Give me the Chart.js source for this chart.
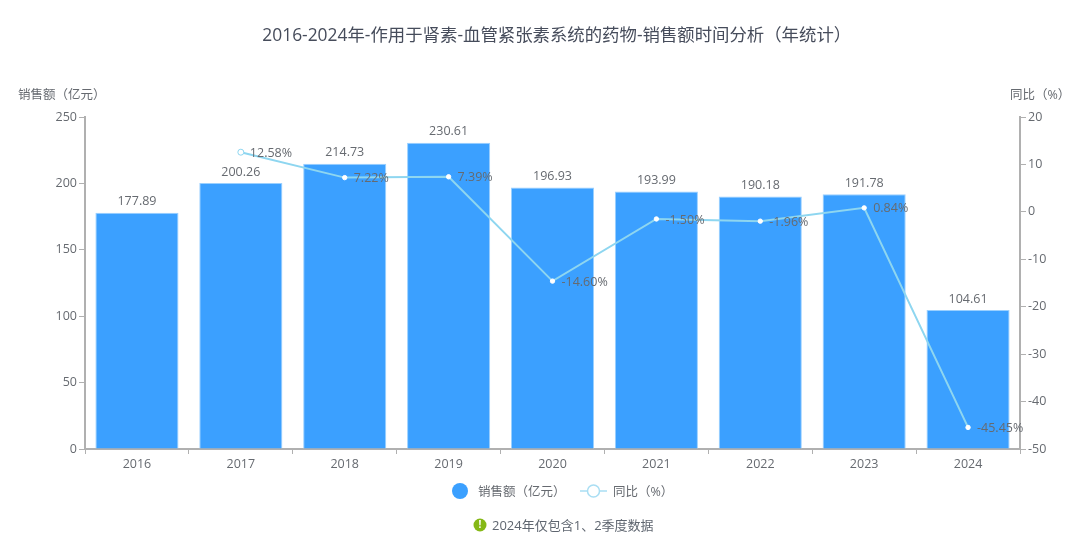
<!DOCTYPE html>
<html><head><meta charset="utf-8">
<script src="https://cdn.jsdelivr.net/npm/chart.js@4"></script>
<style>html,body{margin:0;padding:0;background:#fff}#w{position:relative;width:1080px;height:541px}</style>
</head><body><div id="w"><canvas id="c" width="1080" height="541"></canvas></div>
<script>
const years = ['2016','2017','2018','2019','2020','2021','2022','2023','2024'];
const sales = [177.89,200.26,214.73,230.61,196.93,193.99,190.18,191.78,104.61];
const yoy = [null,12.58,7.22,7.39,-14.60,-1.50,-1.96,0.84,-45.45];
const titleText = '2016-2024年-作用于肾素-血管紧张素系统的药物-销售额时间分析（年统计）';
const leftName = '销售额（亿元）';
const rightName = '同比（%）';
const noteText = '2024年仅包含1、2季度数据';
const F = '"Open Sans","Noto Sans CJK SC",sans-serif';
const BLUE = '#3ba0ff', LINE = '#8ed6f0', AXIS = '#b0b0b0', TXT = '#666a70';
const KEEP = '\u00a0';

const overlay = {
  id:'overlay',
  afterDatasetsDraw(ch){
    const g = ch.ctx; g.save();
    g.textBaseline = 'middle';
    g.font = '17.4px '+F; g.fillStyle = '#464c5b'; g.textAlign = 'center';
    g.fillText(titleText+KEEP, 559, 36);
    g.font = '12.5px '+F; g.fillStyle = TXT;
    ch.getDatasetMeta(1).data.forEach((el,i)=>g.fillText(sales[i].toFixed(2), el.x, el.y-11));
    g.textAlign = 'left';
    ch.getDatasetMeta(0).data.forEach((el,i)=>{ if(yoy[i]!==null) g.fillText(yoy[i].toFixed(2)+'%', el.x+9, el.y+1); });
    g.fillText(leftName+KEEP, 18, 95);
    g.fillText(rightName+KEEP, 1010, 95);
    const ly = 491;
    g.fillStyle = BLUE; g.beginPath(); g.arc(460, ly, 8, 0, 7); g.fill();
    g.fillStyle = TXT;
    g.fillText(leftName+KEEP, 478, ly+1);
    g.strokeStyle = '#a9def3'; g.lineWidth = 1.5;
    g.beginPath(); g.moveTo(580, ly); g.lineTo(607, ly); g.stroke();
    g.fillStyle = '#fff'; g.beginPath(); g.arc(593.5, ly, 6, 0, 7); g.fill(); g.stroke();
    g.fillStyle = TXT;
    g.fillText(rightName+KEEP, 613, ly+1);
    g.fillStyle = '#85b816'; g.beginPath(); g.arc(480, 525, 6.5, 0, 7); g.fill();
    g.fillStyle = '#fff'; g.font = 'bold 10px '+F; g.textAlign = 'center';
    g.fillText('!', 480, 525);
    g.fillStyle = '#5f6670'; g.font = '13px '+F; g.textAlign = 'left';
    g.fillText(noteText, 492, 526);
    g.restore();
  }
};

new Chart(document.getElementById('c'),{
  data:{labels:years,datasets:[
    {type:'line',label:rightName,data:yoy,yAxisID:'y1',order:0,borderColor:LINE,borderWidth:2,tension:0,spanGaps:false,
     pointRadius:yoy.map((v,i)=>i===1?3:2.2),pointHoverRadius:3,pointBackgroundColor:'#fff',
     pointBorderColor:yoy.map((v,i)=>i===1?LINE:'#fff'),pointBorderWidth:1},
    {type:'bar',label:leftName,data:sales,yAxisID:'y',order:1,backgroundColor:BLUE,borderColor:'#9ad0ff',borderWidth:1,
     barPercentage:0.8,categoryPercentage:1}
  ]},
  options:{
    responsive:false,animation:false,events:[],
    layout:{padding:{top:117}},
    plugins:{legend:{display:false},tooltip:{enabled:false},title:{display:false}},
    scales:{
      x:{type:'category',offset:true,
        afterFit(s){s.height=92;},
        border:{color:AXIS,width:2},
        grid:{display:true,drawOnChartArea:false,drawTicks:true,tickLength:5,color:AXIS,offset:true},
        ticks:{color:TXT,font:{family:F,size:12.5},padding:3,maxRotation:0}},
      y:{position:'left',min:0,max:250,
        afterFit(s){s.width=85;},
        border:{color:AXIS,width:2},
        grid:{drawOnChartArea:false,tickLength:6,color:AXIS},
        ticks:{stepSize:50,color:TXT,font:{family:F,size:12.5},padding:2}},
      y1:{position:'right',min:-50,max:20,
        afterFit(s){s.width=60;},
        border:{color:AXIS,width:2},
        grid:{drawOnChartArea:false,tickLength:6,color:AXIS},
        ticks:{stepSize:10,color:TXT,font:{family:F,size:12.5},padding:2}}
    }
  },
  plugins:[overlay]
});
</script></body></html>
